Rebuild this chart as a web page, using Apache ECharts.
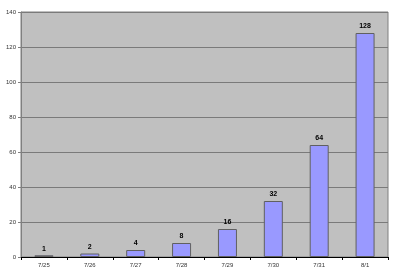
<!DOCTYPE html>
<html><head><meta charset="utf-8">
<script src="https://cdn.jsdelivr.net/npm/echarts@6/dist/echarts.min.js"></script>
<style>html,body{margin:0;padding:0;background:#fff}#c{width:400px;height:274px}</style>
</head><body><div id="c"></div>
<script>
const categories = ['7/25','7/26','7/27','7/28','7/29','7/30','7/31','8/1'];
const values = [1,2,4,8,16,32,64,128];
const yTicks = [0,20,40,60,80,100,120,140];

const chart = echarts.init(document.getElementById('c'));
chart.setOption({
  animation:false,
  grid:{left:21,right:12,top:12,bottom:17,show:true,backgroundColor:'#c0c0c0',borderColor:'#808080',borderWidth:1},
  xAxis:{type:'category',data:categories,boundaryGap:true,
    axisLine:{lineStyle:{color:'#000',width:1}},
    axisTick:{show:true,length:3,lineStyle:{color:'#000'}},
    axisLabel:{fontSize:6,color:'#333',margin:5,fontFamily:'Arial, Liberation Sans'}},
  yAxis:{type:'value',min:0,max:140,interval:20,
    axisLine:{show:true,lineStyle:{color:'#808080'}},
    axisTick:{show:true,length:3,lineStyle:{color:'#808080'}},
    splitLine:{lineStyle:{color:'#7a7a7a',width:1}},
    axisLabel:{fontSize:6,color:'#333',margin:5,fontFamily:'Arial, Liberation Sans',
      formatter:v=>yTicks.includes(v)?String(v):''}},
  series:[{type:'bar',data:values,barWidth:19,
    itemStyle:{color:'#9999ff',borderColor:'#606060',borderWidth:1},
    label:{show:true,position:'top',distance:3,fontSize:7,fontWeight:'bold',color:'#000',fontFamily:'Arial, Liberation Sans'}}]
});
</script></body></html>
